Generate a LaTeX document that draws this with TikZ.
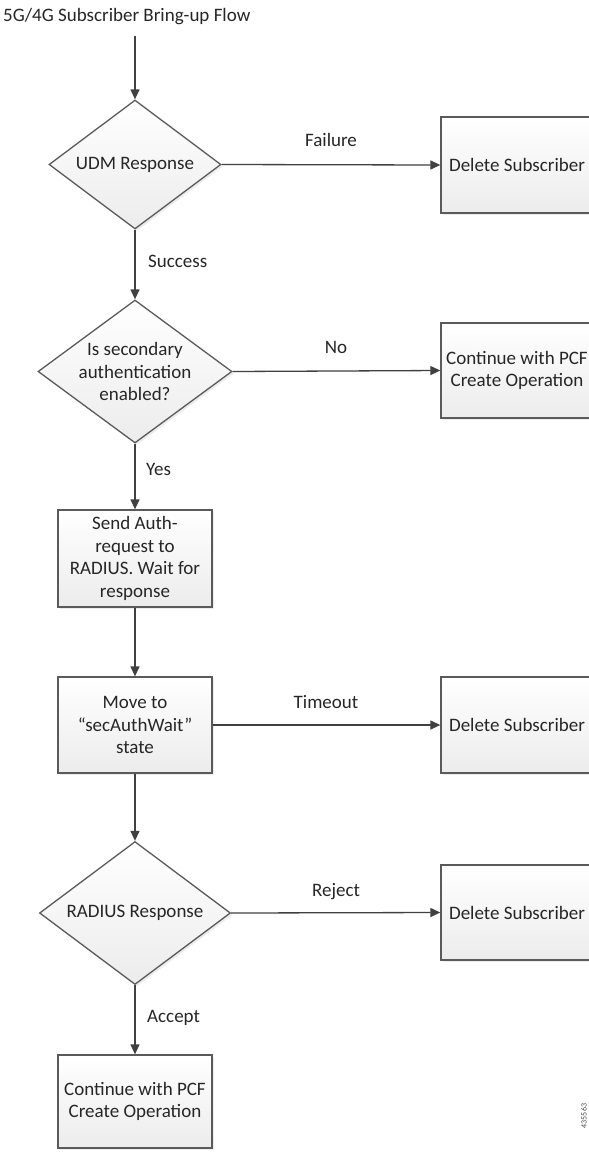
\documentclass[tikz,border=0pt]{standalone}
\usepackage{fontspec}
\setmainfont{Carlito}
\usetikzlibrary{arrows.meta,shapes.geometric,shadows}

\definecolor{lineclr}{HTML}{404040}
\definecolor{edgeclr}{HTML}{5A5A5A}

\begin{document}
\begin{tikzpicture}[x=1pt, y=-1pt, >={Triangle[length=10pt, width=9pt]},
  every node/.style={font=\fontsize{19}{22.5}\selectfont, text=black!85},
  box/.style={draw=edgeclr, line width=1.3pt, top color=white, bottom color=gray!15,
    align=center, minimum width=154, minimum height=96, inner sep=0pt,
    drop shadow={opacity=0.15, shadow xshift=2pt, shadow yshift=-2pt}},
  decision/.style={diamond, draw=edgeclr, line width=1.3pt, top color=white, bottom color=gray!15,
    inner sep=0pt, drop shadow={opacity=0.15, shadow xshift=2pt, shadow yshift=-2pt}},
  flow/.style={->, draw=lineclr, line width=1.3pt},
  lbl/.style={anchor=base}]

  % Frame
  \useasboundingbox (0,0) rectangle (589,1152);

  % Title
  \node[anchor=base west, inner sep=0pt] (title) at (3,21.5) {5G/4G Subscriber Bring-up Flow};
  \coordinate (start) at (135,36);

  % Main column
  \node[decision, minimum width=172, minimum height=129,
    label={[align=center]center:UDM Response}] (udm) at (135,164.5) {};
  \node[decision, minimum width=194, minimum height=143,
    label={[align=center]center:Is secondary\\authentication\\enabled?}] (sec) at (135,371.5) {};
  \node[box, minimum height=97] (send) at (135,558.5) {Send Auth-\\request to\\RADIUS. Wait for\\response};
  \node[box] (move) at (135,725) {Move to\\“secAuthWait”\\state};
  \node[decision, minimum width=191, minimum height=143,
    label={[align=center]center:RADIUS Response}] (rad) at (135,913) {};
  \node[box, minimum height=93] (pcfB) at (135,1101.5) {Continue with PCF\\Create Operation};

  % Right column
  \node[box, minimum width=152] (delA) at (517,165) {Delete Subscriber};
  \node[box, minimum width=152, minimum height=95] (pcfA) at (517,370.5) {Continue with PCF\\Create Operation};
  \node[box, minimum width=152] (delB) at (517,725) {Delete Subscriber};
  \node[box, minimum width=152, minimum height=95] (delC) at (517,912.5) {Delete Subscriber};

  % Connectors
  \draw[flow] (start) -- (udm.north);
  \draw[flow] (udm.east) -- (delA.west);
  \draw[flow] (udm.south) -- (sec.north);
  \draw[flow] (sec.east) -- (pcfA.west);
  \draw[flow] (sec.south) -- (send.north);
  \draw[flow] (send.south) -- (move.north);
  \draw[flow] (move.east) -- (delB.west);
  \draw[flow] (move.south) -- (rad.north);
  \draw[flow] (rad.east) -- (delC.west);
  \draw[flow] (rad.south) -- (pcfB.north);

  % Branch labels
  \node[lbl] (failure) at (331,146) {Failure};
  \node[lbl] (no) at (336,353) {No};
  \node[lbl] (timeout) at (326,708) {Timeout};
  \node[lbl] (reject) at (336,896) {Reject};
  \node[anchor=base west, inner sep=0pt] (success) at (148,267) {Success};
  \node[anchor=base west, inner sep=0pt] (yes) at (146,475) {Yes};
  \node[anchor=base west, inner sep=0pt] (accept) at (147,1022) {Accept};

  % Figure id
  \node[rotate=90, font=\fontsize{8}{9}\selectfont, text=black!70] (figid) at (584,1116) {435563};

\end{tikzpicture}
\end{document}
